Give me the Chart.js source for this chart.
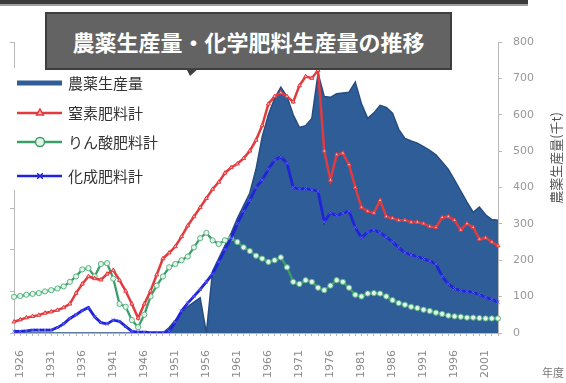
<!DOCTYPE html>
<html><head><meta charset="utf-8">
<script src="https://cdn.jsdelivr.net/npm/chart.js@4/dist/chart.umd.min.js"></script>
<style>
html,body{margin:0;padding:0;background:#fff;}
#wrap{position:relative;width:566px;height:383px;overflow:hidden;font-family:"Noto Sans CJK JP",sans-serif;}
#c{position:absolute;left:0;top:0;}
#topbar{position:absolute;left:0;top:0;width:528px;height:4px;background:#3a3a3a;border-bottom:2px solid #a0a0a0;}
#title{position:absolute;left:45px;top:12px;width:403px;height:54px;background:#636363;border:2px solid #3e3e3e;color:#fff;font-weight:bold;font-size:22px;line-height:54px;text-align:center;white-space:nowrap;}
#ptr{position:absolute;left:186px;top:68px;width:0;height:0;border-left:4px solid transparent;border-right:9px solid transparent;border-top:8px solid #3e3e3e;}
#nendo{position:absolute;left:542px;top:364px;font-size:11px;color:#777;}
</style>
</head><body>
<div id="wrap">
<canvas id="c" width="566" height="383"></canvas>
<div id="topbar"></div>
<div id="title">農薬生産量・化学肥料生産量の推移</div>
<div id="ptr"></div>
<div id="nendo">年度</div>
</div>
<script>
const years = [1925,1926,1927,1928,1929,1930,1931,1932,1933,1934,1935,1936,1937,1938,1939,1940,1941,1942,1943,1944,1945,1946,1947,1948,1949,1950,1951,1952,1953,1954,1955,1956,1957,1958,1959,1960,1961,1962,1963,1964,1965,1966,1967,1968,1969,1970,1971,1972,1973,1974,1975,1976,1977,1978,1979,1980,1981,1982,1983,1984,1985,1986,1987,1988,1989,1990,1991,1992,1993,1994,1995,1996,1997,1998,1999,2000,2001,2002,2003];
const xTickYears = [1926,1931,1936,1941,1946,1951,1956,1961,1966,1971,1976,1981,1986,1991,1996,2001];
const rightTicks = [0,100,200,300,400,500,600,700,800];
const leftTicks = [0,100,200,300,400,500,600,700];

// 農薬生産量 (千t, right axis)
const pesticide = [0,0,0,0,0,0,0,0,0,0,0,0,0,0,0,0,0,0,0,0,0,0,0,0,0,15,35,55,72,85,97,0,170,205,240,275,315,350,385,450,540,600,645,676,650,600,565,570,590,714,650,648,658,660,662,690,630,590,605,626,620,604,560,535,528,522,512,502,490,470,450,420,390,360,332,346,325,312,310];
// fertilizer series (left axis)
const nitrogen = [27,32,37,40,43,48,51,55,61,70,96,118,136,131,128,142,151,127,101,70,36,70,101,140,179,193,208,232,258,280,302,324,346,363,385,398,407,420,438,464,499,551,569,578,569,556,595,617,613,632,438,368,429,433,405,350,302,293,289,319,280,276,271,271,267,267,263,256,254,278,280,271,248,263,254,226,229,219,210];
const phosphate = [87,89,92,94,96,100,103,107,112,123,136,153,156,136,166,168,131,70,63,31,14,44,88,114,136,158,166,175,184,206,228,241,223,214,223,228,219,206,197,186,179,171,175,182,158,123,118,127,123,109,103,114,127,123,109,92,88,95,96,95,88,79,72,68,63,60,56,53,49,46,42,40,39,37,37,36,35,35,35];
const compound = [4,4,5,7,7,7,7,13,22,35,44,54,61,39,25,22,31,28,16,4,2,2,1,1,1,4,26,53,72,88,105,123,142,171,201,228,263,293,319,350,368,394,416,424,408,350,346,348,344,341,267,289,282,289,293,254,229,243,248,241,231,219,206,193,188,184,179,173,166,136,118,107,102,100,98,92,86,81,74];

const legendItems = [
  {text:'農薬生産量', color:'#2f5d98', kind:'area', y:83},
  {text:'窒素肥料計', color:'#e23b3f', kind:'triangle', y:113},
  {text:'りん酸肥料計', color:'#3a9e68', kind:'circle', y:142},
  {text:'化成肥料計', color:'#2024d8', kind:'crossRot', y:176}
];

const overlay = {
  id:'overlay',
  afterDraw(chart){
    const ctx = chart.ctx;
    ctx.save();
    ctx.fillStyle = '#fff';
    ctx.fillRect(9, 68, 168, 122);
    legendItems.forEach(it=>{
      ctx.lineCap='butt';
      ctx.strokeStyle = it.color;
      ctx.lineWidth = it.kind==='area' ? 5 : 2.5;
      ctx.beginPath(); ctx.moveTo(17,it.y); ctx.lineTo(62,it.y); ctx.stroke();
      if(it.kind!=='area'){
        ctx.fillStyle = it.kind==='triangle' ? '#f6b8ba' : (it.kind==='circle' ? '#e3f3e8' : it.color);
        ctx.lineWidth = 1.5;
        Chart.helpers.drawPoint(ctx, {pointStyle:it.kind, radius: it.kind==='circle'?4.5:4, borderWidth:1.5}, 40, it.y);
      }
      ctx.fillStyle = '#333';
      ctx.font = '15px "Noto Sans CJK JP"';
      ctx.textBaseline = 'middle';
      ctx.textAlign = 'left';
      ctx.fillText(it.text, 68, it.y);
    });
    ctx.translate(556, 158);
    ctx.rotate(-Math.PI/2);
    ctx.fillStyle = '#555';
    ctx.font = '13px "Noto Sans CJK JP"';
    ctx.textAlign = 'center';
    ctx.textBaseline = 'middle';
    ctx.fillText('農薬生産量(千t)', 0, 0);
    ctx.restore();
  }
};

new Chart(document.getElementById('c'), {
  type:'line',
  data:{
    labels: years,
    datasets:[
      {label:'窒素肥料計', data:nitrogen, yAxisID:'yL', borderColor:'#e23b3f', borderWidth:2.5, pointStyle:'triangle', pointRadius:2.3, pointBorderWidth:1, pointBorderColor:'#e23b3f', pointBackgroundColor:'#f6b8ba', tension:0, order:1},
      {label:'化成肥料計', data:compound, yAxisID:'yL', borderColor:'#2024d8', borderWidth:2.8, pointStyle:'crossRot', pointRadius:2.3, pointBorderWidth:1, pointBorderColor:'#5a5ef0', pointBackgroundColor:'#2024d8', tension:0, order:2},
      {label:'りん酸肥料計', data:phosphate, yAxisID:'yL', borderColor:'#3a9e68', borderWidth:2.3, pointStyle:'circle', pointRadius:2.6, pointBorderWidth:1, pointBorderColor:'#5cb585', pointBackgroundColor:'#e3f3e8', tension:0, order:3},
      {label:'農薬生産量', data:pesticide, yAxisID:'y', fill:'origin', backgroundColor:'#2f5d98', borderColor:'#264d82', borderWidth:1.5, pointRadius:0, tension:0, order:10}
    ]
  },
  options:{
    responsive:false, animation:false, events:[],
    layout:{padding:{top:42,left:0,right:0,bottom:0}},
    plugins:{legend:{display:false}, tooltip:{enabled:false}, title:{display:false}},
    scales:{
      x:{
        grid:{drawOnChartArea:false, tickLength:3, color:'#b8b8b8'},
        border:{color:'#b8b8b8'},
        ticks:{autoSkip:false, minRotation:90, maxRotation:90, padding:14, color:'#8a8a8a', font:{size:11, family:'DejaVu Sans'},
          callback:(v,i)=> xTickYears.includes(years[i]) ? String(years[i]) : ''},
        afterFit:s=>{s.height=50;}
      },
      yL:{
        position:'left', min:0, max:700,
        afterBuildTicks:s=>{s.ticks = leftTicks.map(v=>({value:v}));},
        ticks:{display:false},
        grid:{drawOnChartArea:false, tickLength:4, color:'#b8b8b8'},
        border:{color:'#b8b8b8'},
        afterFit:s=>{s.width=13;}
      },
      y:{
        position:'right', min:0, max:800,
        afterBuildTicks:s=>{s.ticks = rightTicks.map(v=>({value:v}));},
        ticks:{padding:11, color:'#999', font:{size:11, family:'DejaVu Sans'}},
        grid:{drawOnChartArea:false, tickLength:4, color:'#b8b8b8'},
        border:{color:'#b8b8b8'},
        afterFit:s=>{s.width=68;}
      }
    }
  },
  plugins:[overlay]
});
</script>
</body></html>
